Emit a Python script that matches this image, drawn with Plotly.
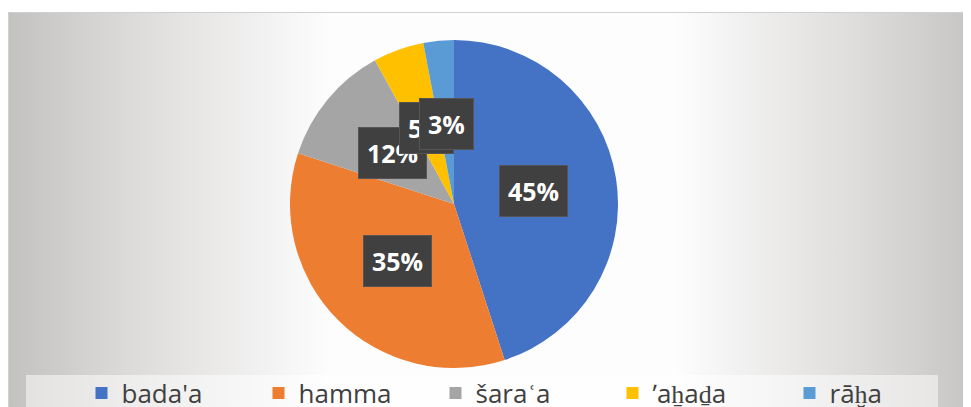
import numpy as np
import plotly.graph_objects as go

# verbs and their share of occurrences (%)
labels = ["bada'a", "hamma", "šaraʿa", "ʼaẖaḏa", "rāḫa"]
shares = [45, 35, 12, 5, 3]
colors = ["#4472C4", "#ED7D31", "#A5A5A5", "#FFC000", "#5B9BD5"]

W, H = 971, 407
OFF = 8  # page body margin, the figure is drawn 8px right/down of the window corner
# pie centre / radius in pixels (figure coordinates)
cx, cy, R = 454 - OFF, 204 - OFF, 164

fig = go.Figure()

# gradient background of the chart area
fig.add_trace(go.Scatter(
    x=[0, 980, 980, 0, 0], y=[4, 4, 420, 420, 4],
    mode="lines", fill="toself", line=dict(width=0),
    fillgradient=dict(type="horizontal",
                      colorscale=[[0, "#c4c2c0"], [0.12, "#dcdad9"], [0.33, "#fdfdfd"],
                                  [0.68, "#fdfdfd"], [0.88, "#dcdad9"], [1, "#c4c2c0"]]),
    hoverinfo="skip", showlegend=False,
))

fig.add_trace(go.Pie(
    labels=labels, values=shares, sort=False, direction="clockwise",
    rotation=0, marker=dict(colors=colors, line=dict(width=0)),
    textinfo="none", hoverinfo="label+percent",
    domain=dict(x=[(cx - R) / W, (cx + R) / W], y=[1 - (cy + R) / H, 1 - (cy - R) / H]),
))

# data labels in dark boxes, placed along the middle angle of each slice
total = sum(shares)
cum = np.cumsum([0] + shares[:-1])
for s, c in zip(shares, cum):
    theta = 2 * np.pi * (c + s / 2) / total
    fig.add_annotation(
        x=cx + 0.49 * R * np.sin(theta), y=cy - 0.49 * R * np.cos(theta),
        xref="x", yref="y", text=f"<b>{s}%</b>", showarrow=False,
        font=dict(family="Open Sans", size=25, color="white"),
        bgcolor="#404040", bordercolor="#555555", borderwidth=1, borderpad=8,
    )

# frame and legend band
fig.add_shape(type="rect", xref="x", yref="y", x0=0.5, y0=4.5, x1=980, y1=420,
              line=dict(color="#d0d0d0", width=1), layer="above")
fig.add_shape(type="rect", xref="x", yref="y", x0=26 - OFF, y0=375 - OFF, x1=938 - OFF, y1=420,
              line=dict(width=0), fillcolor="rgba(255,255,255,0.5)", layer="above")

fig.update_layout(
    width=W, height=H,
    margin=dict(l=0, r=0, t=0, b=0, autoexpand=False),
    paper_bgcolor="white", plot_bgcolor="rgba(0,0,0,0)",
    xaxis=dict(range=[0, W], visible=False, fixedrange=True),
    yaxis=dict(range=[H, 0], visible=False, fixedrange=True),
    legend=dict(orientation="h", x=0.0757, xanchor="left", y=1 - (393 - OFF) / H, yanchor="middle",
                font=dict(family="Open Sans", size=26, color="#404040"),
                bgcolor="rgba(0,0,0,0)", entrywidth=132, entrywidthmode="pixels"),
)

fig.write_html("out.html")
